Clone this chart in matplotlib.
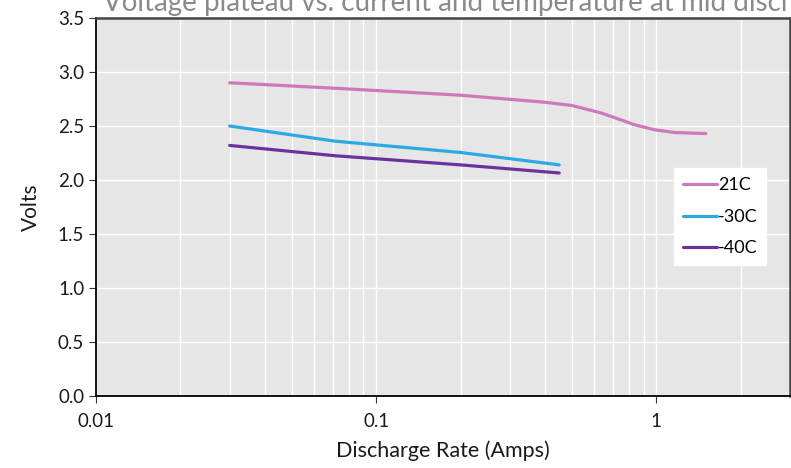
import matplotlib
matplotlib.use("Agg")
import matplotlib.pyplot as plt
from matplotlib.ticker import LogLocator, FixedLocator, NullFormatter

plt.rcParams['font.family'] = ['Lato', 'DejaVu Sans']

# values
x_21 = [0.03, 0.071, 0.2, 0.4, 0.5, 0.637, 0.84, 0.987, 1.16, 1.5]
v_21 = [2.90, 2.85, 2.785, 2.72, 2.69, 2.62, 2.51, 2.465, 2.44, 2.43]
x_30 = [0.03, 0.071, 0.2, 0.45]
v_30 = [2.50, 2.36, 2.255, 2.14]
x_40 = [0.03, 0.071, 0.2, 0.45]
v_40 = [2.32, 2.225, 2.14, 2.065]
labels = ['21C', '-30C', '-40C']
colours = ['#cd79b9', '#29abe2', '#6b329c']
title = 'Voltage plateau vs. current and temperature at mid discharge'

fig = plt.figure(figsize=(7.91, 4.68), dpi=100)
ax = fig.add_axes([96/791, 72/468, 694/791, 378/468])
ax.set_facecolor('#e6e6e6')

for xs, vs, lab, c in zip([x_21, x_30, x_40], [v_21, v_30, v_40], labels, colours):
    ax.plot(xs, vs, color=c, lw=2.3, label=lab, solid_capstyle='round')

ax.set_xscale('log')
ax.set_xlim(0.01, 3)
ax.set_ylim(0, 3.5)
ax.set_yticks([0, 0.5, 1, 1.5, 2, 2.5, 3, 3.5])
ax.set_yticklabels(['0.0', '0.5', '1.0', '1.5', '2.0', '2.5', '3.0', '3.5'])
ax.xaxis.set_major_locator(FixedLocator([0.01, 0.1, 1]))
ax.set_xticklabels(['0.01', '0.1', '1'])
ax.xaxis.set_minor_locator(LogLocator(base=10, subs=range(2, 10)))
ax.xaxis.set_minor_formatter(NullFormatter())
ax.grid(True, which='both', axis='x', color='white', lw=1)
ax.grid(True, which='major', axis='y', color='white', lw=1)
ax.set_axisbelow(True)
ax.tick_params(axis='x', which='minor', length=0)
ax.tick_params(axis='both', which='major', labelsize=13.5, length=5, color='#333333',
               labelcolor='#1a1a1a')
ax.tick_params(axis='x', which='major', pad=7)

for s in ['left', 'bottom']:
    ax.spines[s].set_color('black')
    ax.spines[s].set_linewidth(1.3)
for s in ['top', 'right']:
    ax.spines[s].set_color('#444444')
    ax.spines[s].set_linewidth(1.8)

ax.set_xlabel('Discharge Rate (Amps)', fontsize=15.5, labelpad=8, color='#1a1a1a')
ax.set_ylabel('Volts', fontsize=15, labelpad=12, color='#1a1a1a')

leg = ax.legend(loc='center right', bbox_to_anchor=(0.966, 0.474), frameon=True,
                fancybox=False, framealpha=1, edgecolor='white', fontsize=13,
                handlelength=1.9, handletextpad=0.05, borderpad=0.5, labelspacing=0.85,
                borderaxespad=0)

fig.text(103/791, 1 - 11/468, title, fontsize=20, color='#8a8a8a', va='baseline', ha='left')

fig.savefig('out.png', dpi=100)
